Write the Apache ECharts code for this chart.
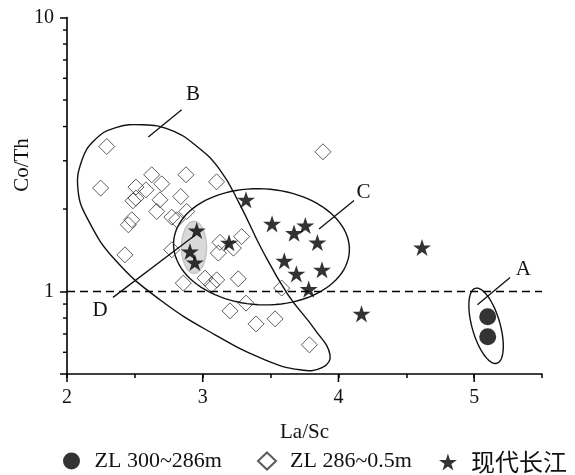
<!DOCTYPE html>
<html>
<head>
<meta charset="utf-8">
<script src="https://cdn.jsdelivr.net/npm/echarts@6.0.0/dist/echarts.min.js"></script>
<style>
html,body{margin:0;padding:0;background:#fff;}
#chart{width:575px;height:475px;}
</style>
</head>
<body>
<div id="chart"></div>
<script>
// ---------- data ----------
const seriesNames = ['ZL 300~286m', 'ZL 286~0.5m', '现代长江'];

const deepLaSc = [5.10, 5.10];
const deepCoTh = [0.809, 0.684];

const upperLaSc = [2.293, 2.248, 2.624, 2.877, 3.102, 2.508, 2.582, 2.698, 2.508, 2.486,
                   2.685, 2.838, 2.661, 2.772, 2.882, 2.808, 2.477, 2.452, 2.427, 3.127,
                   3.287, 3.226, 3.115, 2.772, 2.857, 3.017, 3.103, 3.066, 3.262, 3.582,
                   3.201, 3.319, 3.393, 3.533, 3.786, 3.886];
const upperCoTh = [3.382, 2.385, 2.667, 2.667, 2.514, 2.405, 2.350, 2.472, 2.192, 2.143,
                   2.161, 2.222, 1.959, 1.868, 1.959, 1.827, 1.827, 1.752, 1.361, 1.512,
                   1.587, 1.440, 1.381, 1.420, 1.073, 1.119, 1.103, 1.058, 1.113, 1.029,
                   0.850, 0.907, 0.762, 0.795, 0.639, 3.235];

const yangtzeLaSc = [2.956, 2.906, 2.942, 3.194, 3.319, 3.511, 3.673, 3.756, 3.845, 3.601,
                     3.879, 3.690, 3.781, 4.170, 4.616];
const yangtzeCoTh = [1.670, 1.400, 1.276, 1.506, 2.161, 1.766, 1.633, 1.741, 1.510, 1.294,
                     1.200, 1.160, 1.020, 0.829, 1.447];

const xMajorTicks = [2, 3, 4, 5];
const yMinorTicks = [0.6, 0.7, 0.8, 0.9, 2, 3, 4, 5, 6, 7, 8, 9];
const referenceCoTh = 1;

// field outlines (data space)
const fieldBLaSc = [2.111, 2.206, 2.354, 2.560, 2.759, 2.943, 3.127, 3.275, 3.437, 3.629,
                    3.828, 3.938, 3.879, 3.717, 3.459, 3.091, 2.685, 2.354, 2.155, 2.081];
const fieldBCoTh = [3.024, 3.578, 3.958, 4.059, 3.892, 3.431, 2.781, 2.072, 1.420, 0.973,
                    0.725, 0.587, 0.527, 0.518, 0.563, 0.695, 0.933, 1.305, 1.827, 2.350];
const ellipseCentres = { A: [5.088, 0.7497], C: [3.433, 1.456], D: [2.936, 1.450] };
const leaderLines = {
  A: [[5.024, 0.894], [5.265, 1.125]],
  B: [[2.599, 3.661], [2.845, 4.603]],
  C: [[3.857, 1.690], [4.115, 2.148]],
  D: [[2.339, 0.952], [2.943, 1.604]]
};
const fieldLabels = { A: [5.363, 1.207], B: [2.929, 5.223], C: [4.184, 2.298], D: [2.243, 0.850] };

// ---------- chart ----------
const SERIF = "'Liberation Serif','Times New Roman','Noto Sans CJK SC',serif";
const STAR = 'path://M50 0 L61.2 34.5 L97.6 34.5 L68.2 55.9 L79.4 90.5 L50 69.1 L20.6 90.5 L31.8 55.9 L2.4 34.5 L38.8 34.5 Z';

const zip = (a, b) => a.map((v, i) => [v, b[i]]);

const ellipseStyle = {
  A: { rx: 14, ry: 39, rot: -16, fill: 'none', stroke: '#111' },
  C: { rx: 88, ry: 58, rot: 3, fill: 'none', stroke: '#111' },
  D: { rx: 12.5, ry: 26, rot: 0, fill: '#d9d9d9', stroke: '#c4c4c4' }
};
const shapeKeys = ['D', 'B', 'A', 'C'];

function ellipsePoints(c, s) {
  const phi = s.rot * Math.PI / 180, pts = [];
  for (let i = 0; i < 96; i++) {
    const t = i / 96 * Math.PI * 2;
    pts.push([
      c[0] + s.rx * Math.cos(t) * Math.cos(phi) - s.ry * Math.sin(t) * Math.sin(phi),
      c[1] + s.rx * Math.cos(t) * Math.sin(phi) + s.ry * Math.sin(t) * Math.cos(phi)
    ]);
  }
  return pts;
}

const legendLefts = [63, 257, 439];
const legendBase = {
  top: 450, padding: 0, orient: 'horizontal',
  itemWidth: 18, itemHeight: 17,
  textStyle: { fontFamily: SERIF, fontSize: 22, color: '#111', padding: [0, 0, 0, 9],
    rich: { cn: { fontFamily: "'Noto Sans CJK SC'", fontSize: 24, color: '#111' } } },
  formatter: name => /[\u4e00-\u9fff]/.test(name) ? '{cn|' + name + '}' : name
};

const chart = echarts.init(document.getElementById('chart'), null, { renderer: 'canvas' });

const option = {
  backgroundColor: '#fff',
  animation: false,
  grid: { left: 67, right: 33, top: 17.5, bottom: 101, containLabel: false, outerBoundsMode: 'none' },
  xAxis: {
    type: 'value', min: 2, max: 5.5, interval: 0.5,
    name: 'La/Sc', nameLocation: 'middle', nameGap: 48,
    nameTextStyle: { fontFamily: SERIF, fontSize: 21, color: '#111' },
    axisLine: { show: true, lineStyle: { color: '#000', width: 1.6 } },
    axisTick: { show: true, length: 4, lineStyle: { color: '#000', width: 1.5 } },
    axisLabel: {
      interval: 0, margin: 14, fontFamily: SERIF, fontSize: 20, color: '#111',
      formatter: v => (Math.abs(v - Math.round(v)) < 1e-6 && v < 5.4) ? String(Math.round(v)) : ''
    },
    splitLine: { show: false }
  },
  yAxis: {
    type: 'log', logBase: 10, min: 0.5, max: 10,
    axisLine: { show: true, lineStyle: { color: '#000', width: 1.6 } },
    axisTick: { show: true, length: 7, lineStyle: { color: '#000', width: 1.5 } },
    axisLabel: {
      margin: 13, fontFamily: SERIF, fontSize: 20, color: '#111',
      formatter: v => {
        const l = Math.log10(v);
        return (v >= 0.99 && Math.abs(l - Math.round(l)) < 1e-6) ? String(Math.round(Math.pow(10, Math.round(l)))) : '';
      }
    },
    splitLine: { show: false },
    minorTick: { show: false }
  },
  legend: seriesNames.map((n, i) => Object.assign({}, legendBase, { data: [n], left: legendLefts[i] })),
  graphic: [
    { type: 'text', x: 22, y: 165, rotation: Math.PI / 2,
      style: { text: 'Co/Th', font: "21px 'Liberation Serif'", fill: '#111', align: 'center', verticalAlign: 'middle' } }
  ],
  series: [
    {
      type: 'custom', name: 'fields', silent: true, clip: false, z: 1,
      data: shapeKeys.map(k => k === 'B' ? [fieldBLaSc[0], fieldBCoTh[0]] : ellipseCentres[k]),
      renderItem: (params, api) => {
        const k = shapeKeys[params.dataIndex];
        if (k === 'B') {
          const pts = fieldBLaSc.map((x, i) => api.coord([x, fieldBCoTh[i]]));
          return { type: 'polygon', shape: { points: pts, smooth: 0.45 },
                   style: { fill: 'none', stroke: '#111', lineWidth: 1.4 } };
        }
        const s = ellipseStyle[k];
        const c = api.coord(ellipseCentres[k]);
        return { type: 'polygon', shape: { points: ellipsePoints(c, s) },
                 style: { fill: s.fill, stroke: s.stroke, lineWidth: 1.4 } };
      }
    },
    {
      type: 'custom', name: 'leaders', silent: true, clip: false, z: 6,
      data: Object.keys(leaderLines).map(k => leaderLines[k][0]),
      renderItem: (params, api) => {
        const k = Object.keys(leaderLines)[params.dataIndex];
        const a = api.coord(leaderLines[k][0]), b = api.coord(leaderLines[k][1]);
        const t = api.coord(fieldLabels[k]);
        return { type: 'group', children: [
          { type: 'line', shape: { x1: a[0], y1: a[1], x2: b[0], y2: b[1] }, style: { stroke: '#111', lineWidth: 1.3 } },
          { type: 'text', style: { text: k, x: t[0], y: t[1], font: "21px 'Liberation Serif'", fill: '#111', align: 'center', verticalAlign: 'middle' } }
        ] };
      }
    },
    {
      type: 'custom', name: 'yMinor', silent: true, clip: false, z: 5,
      data: yMinorTicks.map(v => [2, v]),
      renderItem: (params, api) => {
        const p = api.coord([api.value(0), api.value(1)]);
        return { type: 'line', shape: { x1: p[0] - 4, y1: p[1], x2: p[0], y2: p[1] }, style: { stroke: '#000', lineWidth: 1.4 } };
      }
    },
    {
      type: 'custom', name: 'xMajor', silent: true, clip: false, z: 5,
      data: xMajorTicks.map(v => [v, 0.5]),
      renderItem: (params, api) => {
        const p = api.coord([api.value(0), api.value(1)]);
        return { type: 'line', shape: { x1: p[0], y1: p[1], x2: p[0], y2: p[1] + 8 }, style: { stroke: '#000', lineWidth: 1.5 } };
      }
    },
    {
      type: 'scatter', name: seriesNames[1], z: 3,
      data: zip(upperLaSc, upperCoTh),
      symbol: 'diamond', symbolSize: 16,
      itemStyle: { color: 'rgba(0,0,0,0)', borderColor: '#333', borderWidth: 1 },
      markLine: {
        silent: true, symbol: 'none', label: { show: false },
        lineStyle: { type: [8, 5], color: '#000', width: 1.3 },
        data: [{ yAxis: referenceCoTh }]
      }
    },
    {
      type: 'scatter', name: seriesNames[2], z: 4,
      data: zip(yangtzeLaSc, yangtzeCoTh),
      symbol: STAR, symbolSize: 18, symbolKeepAspect: true,
      itemStyle: { color: '#000' }
    },
    {
      type: 'scatter', name: seriesNames[0], z: 4,
      data: zip(deepLaSc, deepCoTh),
      symbol: 'circle', symbolSize: 17,
      itemStyle: { color: '#000' }
    }
  ]
};
chart.setOption(option);
</script>
</body>
</html>
